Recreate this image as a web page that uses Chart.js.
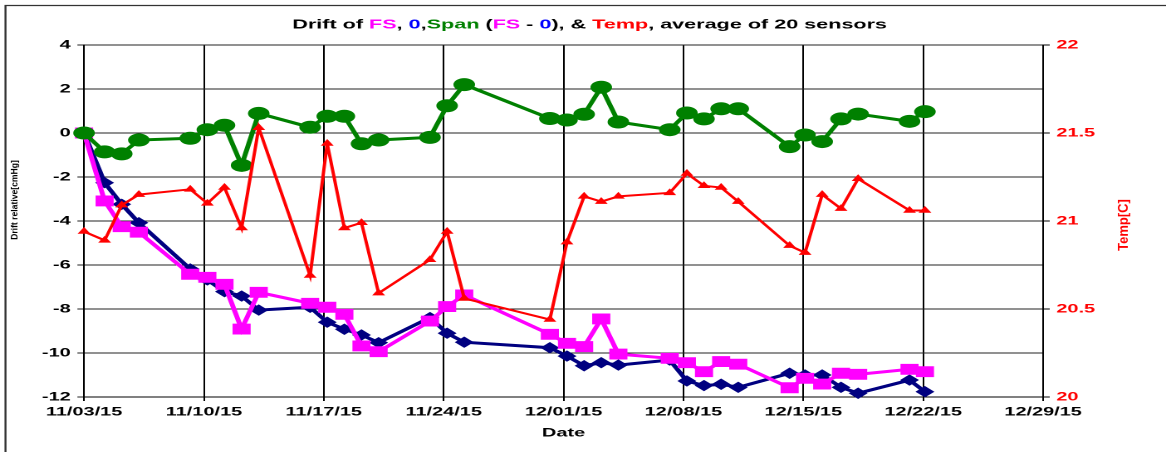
<!DOCTYPE html>
<html>
<head>
<meta charset="utf-8">
<title>Drift of FS, 0, Span and Temp</title>
<script src="https://cdn.jsdelivr.net/npm/chart.js@4.4.1/dist/chart.umd.min.js"></script>
<style>
  html, body { margin: 0; padding: 0; background: #fff; overflow: hidden; }
  canvas { display: block; }
</style>
</head>
<body>
<!-- the original Excel picture is stretched sideways, so the canvas is drawn narrow and widened by CSS -->
<canvas id="driftChart" width="702" height="452" style="width:1166px;height:452px"></canvas>
<script>
// Sample times, in days after 11/03/15 00:00
const sampleDays = [0, 1.2, 2.2, 3.2, 6.2, 7.2, 8.2, 9.2, 10.2, 13.2, 14.2, 15.2, 16.2, 17.2,
    20.2, 21.2, 22.2, 27.2, 28.2, 29.2, 30.2, 31.2, 34.2, 35.2, 36.2, 37.2, 38.2,
    41.2, 42.1, 43.1, 44.2, 45.2, 48.2, 49.1];

// Drift relative [cmHg], average of 20 sensors
const fsDrift = [0, -3.09, -4.26, -4.51, -6.42, -6.56, -6.88, -8.91, -7.24, -7.74, -7.92, -8.24, -9.68, -9.94,
    -8.55, -7.89, -7.36, -9.15, -9.56, -9.71, -8.45, -10.05, -10.24, -10.44, -10.85, -10.39, -10.51,
    -11.58, -11.15, -11.41, -10.92, -10.97, -10.74, -10.85];
const zeroDrift = [0, -2.26, -3.24, -4.08, -6.18, -6.68, -7.21, -7.41, -8.05, -7.92, -8.6, -8.92, -9.18, -9.53,
    -8.39, -9.1, -9.51, -9.76, -10.14, -10.58, -10.44, -10.55, -10.32, -11.27, -11.48, -11.42, -11.56,
    -10.92, -11.0, -11.0, -11.56, -11.83, -11.23, -11.76];
const spanDrift = [0, -0.86, -0.95, -0.32, -0.24, 0.15, 0.35, -1.47, 0.89, 0.26, 0.76, 0.76, -0.49, -0.32,
    -0.2, 1.24, 2.2, 0.66, 0.59, 0.85, 2.08, 0.5, 0.15, 0.91, 0.64, 1.1, 1.1,
    -0.62, -0.09, -0.39, 0.64, 0.86, 0.53, 0.97];

// Temp [C], right axis
const tempC = [20.94, 20.89, 21.09, 21.15, 21.18, 21.10, 21.19, 20.96, 21.53, 20.69, 21.44, 20.96, 20.99, 20.59,
    20.78, 20.94, 20.56, 20.44, 20.88, 21.14, 21.11, 21.14, 21.16, 21.27, 21.20, 21.19, 21.11,
    20.86, 20.82, 21.15, 21.07, 21.24, 21.06, 21.06];

// One tick a week
const weekLabels = ['11/03/15', '11/10/15', '11/17/15', '11/24/15', '12/01/15', '12/08/15', '12/15/15', '12/22/15', '12/29/15'];

const STRETCH = 1166 / 702;
const FONT = '"Liberation Sans", Arial, sans-serif';

const titleParts = [
    ['Drift of ', '#000000'], ['FS', '#FF00FF'], [', ', '#000000'], ['0', '#0000FF'], [',', '#000000'],
    ['Span', '#008000'], [' (', '#000000'], ['FS', '#FF00FF'], [' - ', '#000000'], ['0', '#0000FF'],
    ['), & ', '#000000'], ['Temp', '#FF0000'], [', average of 20 sensors', '#000000']
];

function points(values) {
    return values.map((v, i) => ({ x: sampleDays[i], y: v }));
}

// text that is turned on its side is not widened in the original, so undo the stretch for it
function sideText(ctx, text, x, y, font, color) {
    ctx.save();
    ctx.translate(x, y);
    ctx.scale(1 / STRETCH, 1);
    ctx.rotate(-Math.PI / 2);
    ctx.font = font;
    ctx.fillStyle = color;
    ctx.textAlign = 'center';
    ctx.textBaseline = 'middle';
    ctx.fillText(text, 0, 0);
    ctx.restore();
}

const decorPlugin = {
    id: 'decor',
    afterDraw(chart) {
        const ctx = chart.ctx;
        const area = chart.chartArea;

        // title in several colours
        ctx.save();
        ctx.font = 'bold 13px ' + FONT;
        ctx.textBaseline = 'middle';
        let total = 0;
        titleParts.forEach(p => { total += ctx.measureText(p[0]).width; });
        let x = 355 - total / 2;
        titleParts.forEach(p => {
            ctx.fillStyle = p[1];
            ctx.fillText(p[0], x, 25);
            x += ctx.measureText(p[0]).width;
        });

        // x axis title
        ctx.font = 'bold 12px ' + FONT;
        ctx.fillStyle = '#000';
        ctx.textAlign = 'center';
        ctx.fillText('Date', (area.left + area.right) / 2, 433);

        // outer frame
        ctx.strokeStyle = '#333';
        ctx.lineWidth = 1.2;
        ctx.beginPath();
        ctx.moveTo(3.3, 460);
        ctx.lineTo(3.3, 5.5);
        ctx.lineTo(720, 5.5);
        ctx.stroke();
        ctx.restore();

        sideText(ctx, 'Drift relative[cmHg]', 9, 200, 'bold 8.6px ' + FONT, '#000');
        sideText(ctx, 'Temp[C]', 677, 225, 'bold 13px ' + FONT, '#FF0000');
    }
};

const tickFont = { family: FONT, size: 12, weight: 'bold' };

new Chart(document.getElementById('driftChart'), {
    type: 'line',
    data: {
        datasets: [
            {
                label: 'Span',
                data: points(spanDrift),
                yAxisID: 'y',
                borderColor: '#008000',
                backgroundColor: '#008000',
                borderWidth: 3,
                pointStyle: 'circle',
                pointRadius: 6,
                pointBorderWidth: 1,
                order: 1
            },
            {
                label: '0',
                data: points(zeroDrift),
                yAxisID: 'y',
                borderColor: '#000080',
                backgroundColor: '#000080',
                borderWidth: 3,
                pointStyle: 'rectRot',
                pointRadius: 5,
                pointBorderWidth: 1,
                order: 3
            },
            {
                label: 'FS',
                data: points(fsDrift),
                yAxisID: 'y',
                borderColor: '#FF00FF',
                backgroundColor: '#FF00FF',
                borderWidth: 3,
                pointStyle: 'rect',
                pointRadius: 7,
                pointBorderWidth: 1,
                order: 2
            },
            {
                label: 'Temp',
                data: points(tempC),
                yAxisID: 'y2',
                borderColor: '#FF0000',
                backgroundColor: '#FF0000',
                borderWidth: 2,
                pointStyle: 'triangle',
                pointRadius: 3.5,
                pointBorderWidth: 1,
                order: 0
            }
        ]
    },
    options: {
        responsive: false,
        devicePixelRatio: 2,
        animation: false,
        clip: false,
        layout: { padding: { top: 45, left: 0, right: 0, bottom: 0 } },
        elements: { line: { tension: 0, fill: false } },
        plugins: {
            legend: { display: false },
            tooltip: { enabled: false }
        },
        scales: {
            x: {
                type: 'linear',
                position: 'bottom',
                min: 0,
                max: 56,
                ticks: {
                    stepSize: 7,
                    color: '#000',
                    font: tickFont,
                    maxRotation: 0,
                    autoSkip: false,
                    padding: 4,
                    callback: v => weekLabels[Math.round(v / 7)]
                },
                grid: { color: '#000', lineWidth: 1, tickLength: 4 },
                border: { color: '#000', width: 1 },
                afterFit: s => { s.height = 55; }
            },
            y: {
                position: 'left',
                min: -12,
                max: 4,
                ticks: { stepSize: 2, color: '#000', font: tickFont, padding: 4 },
                grid: { color: '#222', lineWidth: 1, tickLength: 4 },
                border: { color: '#000', width: 1 },
                afterFit: s => { s.width = 50.6; }
            },
            y2: {
                position: 'right',
                min: 20,
                max: 22,
                ticks: {
                    stepSize: 0.5,
                    color: '#FF0000',
                    font: tickFont,
                    padding: 4,
                    callback: v => String(v)
                },
                grid: { drawOnChartArea: false, color: '#000', tickLength: 4 },
                border: { color: '#000', width: 1 },
                afterFit: s => { s.width = 74; }
            }
        }
    },
    plugins: [decorPlugin]
});
</script>
</body>
</html>
